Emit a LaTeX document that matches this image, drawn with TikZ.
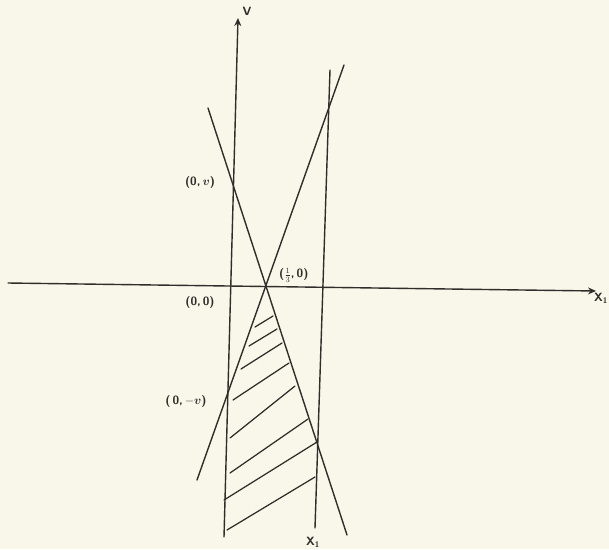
\documentclass[tikz,border=0pt]{standalone}
\usepackage{amsmath,amssymb,bm}
\usetikzlibrary{arrows.meta}
\definecolor{paper}{RGB}{249,246,234}
\definecolor{ink}{RGB}{48,46,42}
\begin{document}
\begin{tikzpicture}[x=1pt,y=-1pt,
  pen/.style={draw=ink,line width=1.4pt,line cap=round},
  axis/.style={pen,-{Stealth[length=8pt,width=7pt]}},
  hatch/.style={draw=ink,line width=1.25pt,line cap=round},
  lbl/.style={text=ink,font=\sffamily\bfseries\fontsize{12}{14}\selectfont,inner sep=0pt}]
\fill[paper] (0,0) rectangle (609,549);
\useasboundingbox (0,0) rectangle (609,549);
% axis and line end points
\coordinate (vb) at (224,537);
\coordinate (vt) at (238,18);
\coordinate (hl) at (8,283);
\coordinate (hr) at (596,291);
\coordinate (rt) at (330,70);
\coordinate (rb) at (315,528);
\coordinate (at) at (208,108);
\coordinate (ab) at (347,535);
\coordinate (bt) at (344,65);
\coordinate (bb) at (197,480);
% axes
\draw[axis] (vb) -- (vt);
\draw[axis] (hl) -- (hr);
% lines
\draw[pen] (rt) -- (rb);
\draw[pen] (at) -- (ab);
\draw[pen] (bt) -- (bb);
% hatching
\draw[hatch] (255,327) -- (273,316);
\draw[hatch] (249,346) -- (277,329);
\draw[hatch] (241,369) -- (282,343);
\draw[hatch] (233,400) -- (289,363);
\draw[hatch] (230,438) -- (295,386);
\draw[hatch] (230,473) -- (308,419);
\draw[hatch] (224,500) -- (317,442);
\draw[hatch] (227,530) -- (315,477);
% labels
\node[lbl] (lv) at (247,11) {V};
\node[lbl] (lx) at (601,298) {X\textsubscript{1}};
\node[lbl] (lxb) at (313,542) {X\textsubscript{1}};
\node[lbl] (l0v) at (200,182) {(0,\,$\bm{v}$)};
\node[lbl] (l00) at (200,302) {(0,\,0)};
\node[lbl,anchor=west] (l30) at (279,275) {($\genfrac{}{}{0.5pt}{1}{\scriptstyle 1}{\scriptstyle 3}$,\,0)};
\node[lbl] (l0mv) at (186,401) {(\,0,\,$-\bm{v}$)};
\end{tikzpicture}
\end{document}
